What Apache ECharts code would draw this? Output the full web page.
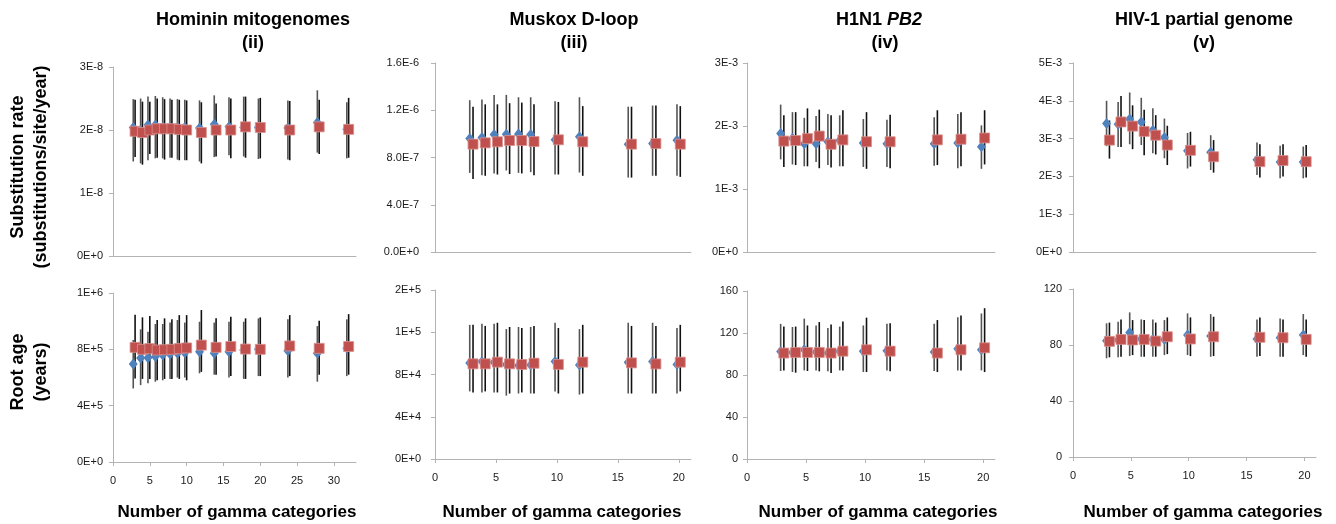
<!DOCTYPE html>
<html>
<head>
<meta charset="utf-8">
<script src="https://cdn.jsdelivr.net/npm/echarts@6/dist/echarts.min.js"></script>
<style>
  html, body { margin: 0; padding: 0; background: #fff; }
  #chart { width: 1336px; height: 524px; }
</style>
</head>
<body>
<div id="chart"></div>
<script>
// number of gamma categories
var gammaHom = [3, 4, 5, 6, 7, 8, 9, 10, 12, 14, 16, 18, 20, 24, 28, 32];
var gammaOther = [3, 4, 5, 6, 7, 8, 10, 12, 16, 18, 20];

// Hominin mitogenomes - substitution rate (x 1e-8)
var homRateBlue   = [2.04, 1.99, 2.08, 2.08, 2.04, 2.04, 2.04, 2.04, 2.03, 2.09, 2.05, 2.04, 2.04, 2.03, 2.12, 2.01];
var homRateBlueLo = [1.50, 1.47, 1.52, 1.55, 1.55, 1.56, 1.53, 1.52, 1.50, 1.57, 1.60, 1.58, 1.54, 1.53, 1.64, 1.55];
var homRateBlueHi = [2.49, 2.50, 2.53, 2.54, 2.52, 2.50, 2.49, 2.48, 2.47, 2.55, 2.52, 2.53, 2.50, 2.47, 2.63, 2.44];
var homRateRed    = [1.98, 1.96, 2.00, 2.02, 2.02, 2.02, 2.01, 2.00, 1.96, 2.00, 2.00, 2.05, 2.04, 2.00, 2.05, 2.01];
var homRateRedLo  = [1.57, 1.45, 1.62, 1.56, 1.53, 1.56, 1.52, 1.52, 1.47, 1.58, 1.55, 1.56, 1.55, 1.52, 1.62, 1.56];
var homRateRedHi  = [2.48, 2.45, 2.45, 2.50, 2.49, 2.48, 2.48, 2.47, 2.44, 2.42, 2.50, 2.53, 2.51, 2.46, 2.48, 2.51];

// Hominin mitogenomes - root age (x 1e5 years)
var homAgeBlue   = [6.96, 7.38, 7.40, 7.50, 7.60, 7.67, 7.72, 7.76, 7.83, 7.72, 7.83, 7.95, 8.00, 7.90, 7.72, 8.07];
var homAgeBlueLo = [5.22, 5.46, 5.60, 5.70, 5.80, 5.90, 6.00, 6.00, 6.30, 6.20, 6.00, 5.90, 6.10, 6.00, 5.70, 6.10];
var homAgeBlueHi = [8.66, 9.42, 9.25, 9.80, 9.80, 9.90, 10.08, 9.90, 9.96, 9.90, 9.96, 9.96, 10.20, 10.13, 9.65, 10.13];
var homAgeRed    = [8.14, 8.00, 8.05, 7.95, 7.97, 8.00, 8.05, 8.10, 8.30, 8.14, 8.20, 8.02, 8.00, 8.24, 8.07, 8.20];
var homAgeRedLo  = [5.93, 5.90, 5.90, 5.80, 5.90, 5.90, 5.90, 5.80, 6.40, 6.20, 6.10, 5.90, 6.10, 6.10, 6.20, 6.20];
var homAgeRedHi  = [10.45, 10.27, 10.36, 10.08, 10.20, 10.13, 10.43, 10.43, 10.79, 10.20, 10.32, 10.20, 10.27, 10.43, 10.03, 10.50];

// Muskox D-loop - substitution rate (x 1e-7)
var muskRateBlue   = [9.60, 9.70, 9.95, 9.97, 10.00, 9.95, 9.50, 9.75, 9.13, 9.18, 9.47];
var muskRateBlueLo = [6.70, 6.50, 6.65, 6.90, 6.70, 6.76, 6.56, 6.73, 6.30, 6.45, 6.45];
var muskRateBlueHi = [12.85, 12.90, 13.30, 13.30, 13.10, 13.10, 12.77, 13.10, 12.30, 12.40, 12.50];
var muskRateRed    = [9.13, 9.24, 9.33, 9.44, 9.44, 9.35, 9.50, 9.33, 9.13, 9.18, 9.13];
var muskRateRedLo  = [6.17, 6.45, 6.56, 6.60, 6.65, 6.50, 6.56, 6.45, 6.30, 6.45, 6.36];
var muskRateRedHi  = [12.30, 12.50, 12.50, 12.60, 12.65, 12.50, 12.70, 12.35, 12.30, 12.40, 12.35];

// Muskox D-loop - root age (x 1e4 years)
var muskAgeBlue   = [9.10, 9.23, 9.17, 8.95, 8.85, 8.90, 9.23, 8.90, 9.17, 9.23, 8.95];
var muskAgeBlueLo = [6.4, 6.3, 6.3, 6.0, 6.2, 6.2, 6.4, 6.1, 6.2, 6.2, 6.2];
var muskAgeBlueHi = [12.7, 12.8, 12.8, 12.3, 12.5, 12.5, 12.9, 12.3, 12.9, 12.9, 12.4];
var muskAgeRed    = [9.01, 9.01, 9.17, 9.01, 8.95, 9.07, 8.95, 9.17, 9.10, 9.00, 9.17];
var muskAgeRedLo  = [6.3, 6.4, 6.3, 6.2, 6.3, 6.2, 6.2, 6.2, 6.2, 6.2, 6.4];
var muskAgeRedHi  = [12.7, 12.6, 12.9, 12.5, 12.4, 12.6, 12.4, 12.7, 12.6, 12.6, 12.7];

// H1N1 PB2 - substitution rate (x 1e-3)
var fluRateBlue   = [1.88, 1.80, 1.72, 1.72, 1.75, 1.77, 1.73, 1.72, 1.72, 1.73, 1.67];
var fluRateBlueLo = [1.47, 1.39, 1.36, 1.43, 1.38, 1.36, 1.35, 1.35, 1.37, 1.33, 1.32];
var fluRateBlueHi = [2.34, 2.22, 2.13, 2.16, 2.19, 2.17, 2.11, 2.10, 2.14, 2.19, 2.01];
var fluRateRed    = [1.76, 1.77, 1.80, 1.84, 1.71, 1.78, 1.75, 1.75, 1.78, 1.79, 1.81];
var fluRateRedLo  = [1.35, 1.38, 1.36, 1.33, 1.34, 1.36, 1.32, 1.33, 1.38, 1.36, 1.39];
var fluRateRedHi  = [2.17, 2.22, 2.28, 2.26, 2.17, 2.25, 2.22, 2.18, 2.25, 2.22, 2.25];

// H1N1 PB2 - root age (years)
var fluAgeBlue   = [102.4, 101.5, 104.0, 102.0, 100.9, 102.7, 102.7, 103.0, 101.8, 105.0, 104.0];
var fluAgeBlueLo = [83.8, 82.8, 84.4, 84.4, 83.5, 84.4, 82.8, 84.4, 83.8, 84.4, 84.4];
var fluAgeBlueHi = [128.7, 125.7, 133.7, 127.2, 124.7, 126.1, 127.2, 128.7, 128.7, 135.0, 138.6];
var fluAgeRed    = [100.9, 101.5, 101.5, 101.5, 100.9, 102.7, 104.0, 102.7, 100.9, 104.0, 105.9];
var fluAgeRedLo  = [84.4, 82.2, 83.8, 83.5, 81.9, 84.4, 82.8, 83.5, 82.8, 84.4, 82.8];
var fluAgeRedHi  = [126.1, 126.1, 127.2, 130.4, 128.2, 131.0, 134.6, 129.4, 132.3, 136.7, 143.6];

// HIV-1 partial genome - substitution rate (x 1e-3)
var hivRateBlue   = [3.40, 3.38, 3.52, 3.44, 3.22, 3.03, 2.68, 2.64, 2.44, 2.38, 2.38];
var hivRateBlueLo = [2.80, 2.78, 2.85, 2.83, 2.61, 2.48, 2.21, 2.17, 2.04, 1.95, 1.95];
var hivRateBlueHi = [4.00, 3.97, 4.22, 4.08, 3.80, 3.53, 3.15, 3.09, 2.90, 2.81, 2.79];
var hivRateRed    = [2.96, 3.44, 3.33, 3.19, 3.09, 2.83, 2.69, 2.52, 2.39, 2.42, 2.39];
var hivRateRedLo  = [2.47, 2.78, 2.72, 2.56, 2.58, 2.30, 2.26, 2.10, 1.97, 2.00, 1.97];
var hivRateRedHi  = [3.48, 4.13, 3.88, 3.76, 3.62, 3.34, 3.18, 2.96, 2.85, 2.85, 2.83];

// HIV-1 partial genome - root age (years)
var hivAgeBlue   = [83.1, 83.6, 89.0, 84.3, 84.0, 84.0, 87.1, 86.4, 84.3, 85.2, 87.1];
var hivAgeBlueLo = [70.5, 71.2, 72.1, 71.6, 71.6, 72.8, 72.8, 71.6, 71.6, 71.6, 72.8];
var hivAgeBlueHi = [95.5, 96.6, 103.3, 98.3, 98.3, 97.8, 102.6, 102.1, 98.3, 99.0, 102.1];
var hivAgeRed    = [82.6, 84.0, 83.6, 84.0, 82.8, 85.9, 84.3, 85.9, 85.5, 85.2, 84.0];
var hivAgeRedLo  = [71.2, 71.6, 72.8, 71.6, 71.6, 73.5, 72.1, 72.1, 72.1, 71.6, 71.6];
var hivAgeRedHi  = [96.0, 98.3, 97.8, 97.8, 96.0, 99.7, 99.7, 100.2, 99.7, 98.3, 98.3];

// panel titles and axis names
var titleLine1 = ['Hominin mitogenomes', 'Muskox D-loop', 'H1N1 {it|PB2}', 'HIV-1 partial genome'];
var titleLine2 = ['(ii)', '(iii)', '(iv)', '(v)'];
var rowNames = ['Substitution rate\n(substitutions/site/year)', 'Root age\n(years)'];
var xName = 'Number of gamma categories';
var xTicks = [0, 5, 10, 15, 20, 25, 30];

// y axis ranges: [max, interval, digits of exponent format (null = plain)]
var rateAxes = [[3e-8, 1e-8, 0], [1.6e-6, 4e-7, 1], [3e-3, 1e-3, 0], [5e-3, 1e-3, 0]];
var ageAxes = [[1.2e6, 4e5, 0], [1.6e5, 4e4, 0], [160, 40, null], [120, 40, null]];
var xMax = [33, 21, 21, 21];

var panels = [
  [
    { x: gammaHom, unit: 1e-8, b: homRateBlue, bl: homRateBlueLo, bh: homRateBlueHi, r: homRateRed, rl: homRateRedLo, rh: homRateRedHi },
    { x: gammaHom, unit: 1e5, b: homAgeBlue, bl: homAgeBlueLo, bh: homAgeBlueHi, r: homAgeRed, rl: homAgeRedLo, rh: homAgeRedHi }
  ],
  [
    { x: gammaOther, unit: 1e-7, b: muskRateBlue, bl: muskRateBlueLo, bh: muskRateBlueHi, r: muskRateRed, rl: muskRateRedLo, rh: muskRateRedHi },
    { x: gammaOther, unit: 1e4, b: muskAgeBlue, bl: muskAgeBlueLo, bh: muskAgeBlueHi, r: muskAgeRed, rl: muskAgeRedLo, rh: muskAgeRedHi }
  ],
  [
    { x: gammaOther, unit: 1e-3, b: fluRateBlue, bl: fluRateBlueLo, bh: fluRateBlueHi, r: fluRateRed, rl: fluRateRedLo, rh: fluRateRedHi },
    { x: gammaOther, unit: 1, b: fluAgeBlue, bl: fluAgeBlueLo, bh: fluAgeBlueHi, r: fluAgeRed, rl: fluAgeRedLo, rh: fluAgeRedHi }
  ],
  [
    { x: gammaOther, unit: 1e-3, b: hivRateBlue, bl: hivRateBlueLo, bh: hivRateBlueHi, r: hivRateRed, rl: hivRateRedLo, rh: hivRateRedHi },
    { x: gammaOther, unit: 1, b: hivAgeBlue, bl: hivAgeBlueLo, bh: hivAgeBlueHi, r: hivAgeRed, rl: hivAgeRedLo, rh: hivAgeRedHi }
  ]
];

// layout (pixels)
var FONT = "'Liberation Sans', Arial, sans-serif";
var colLeft = [113, 435, 747, 1073];
var colWidth = [243, 256, 248, 243];
var rowTop = [[67, 293], [63, 290], [63, 291], [63, 289]];
var rowHeight = [[189, 169], [189, 169], [189, 168], [189, 168]];
var labelMargin = [[10, 10], [16, 14], [9, 9], [11, 11]];
var titleX = [[248, 248], [569, 569], [874, 880], [1199, 1199]];
var xNameX = [237, 562, 878, 1203];
var blueShift = [-0.25, -0.15, -0.15, -0.1];
var redShift = [0, 0.12, 0.12, 0.15];

var BLUE = '#4f81bd', RED = '#c0504d', AXIS = '#b3b3b3', LABEL = '#1a1a1a';

function fmt(digits) {
  return function (v) {
    if (digits === null) return String(Math.round(v));
    return v.toExponential(digits).toUpperCase();
  };
}

function errBar(color) {
  return function (params, api) {
    var p1 = api.coord([api.value(0), api.value(1)]);
    var p2 = api.coord([api.value(0), api.value(2)]);
    return {
      type: 'line',
      shape: { x1: p1[0], y1: p1[1], x2: p2[0], y2: p2[1] },
      style: { stroke: color, lineWidth: 1.6 }
    };
  };
}

var grids = [], xAxes = [], yAxes = [], series = [], titles = [], graphics = [];

for (var c = 0; c < 4; c++) {
  for (var row = 0; row < 2; row++) {
    var idx = grids.length;
    var p = panels[c][row];
    var ax = row === 0 ? rateAxes[c] : ageAxes[c];
    var ticks = xTicks.filter(function (t) { return t <= xMax[c]; });
    grids.push({ left: colLeft[c], top: rowTop[c][row], width: colWidth[c], height: rowHeight[c][row] });
    xAxes.push({
      type: 'value', gridIndex: idx, min: 0, max: xMax[c],
      axisLine: { show: true, onZero: false, lineStyle: { color: AXIS, width: 1 } },
      axisTick: { show: row === 1, length: 4, lineStyle: { color: AXIS }, customValues: ticks },
      axisLabel: { show: row === 1, margin: 13, fontSize: 11, color: LABEL, fontFamily: FONT, customValues: ticks },
      splitLine: { show: false }
    });
    yAxes.push({
      type: 'value', gridIndex: idx, min: 0, max: ax[0], interval: ax[1],
      axisLine: { show: true, lineStyle: { color: AXIS, width: 1 } },
      axisTick: { show: true, length: 4, lineStyle: { color: AXIS } },
      axisLabel: { margin: labelMargin[c][row], fontSize: 11, color: LABEL, fontFamily: FONT, formatter: fmt(ax[2]) },
      splitLine: { show: false }
    });

    var blueErr = [], redErr = [], bluePts = [], redPts = [];
    for (var i = 0; i < p.x.length; i++) {
      var bx = p.x[i] + blueShift[c], rx = p.x[i] + redShift[c];
      blueErr.push([bx, p.bl[i] * p.unit, p.bh[i] * p.unit]);
      redErr.push([rx, p.rl[i] * p.unit, p.rh[i] * p.unit]);
      bluePts.push([bx, p.b[i] * p.unit]);
      redPts.push([rx, p.r[i] * p.unit]);
    }
    series.push({ type: 'custom', xAxisIndex: idx, yAxisIndex: idx, renderItem: errBar('#555555'), data: blueErr, encode: { x: 0, y: [1, 2] }, z: 1, silent: true });
    series.push({ type: 'custom', xAxisIndex: idx, yAxisIndex: idx, renderItem: errBar('#111111'), data: redErr, encode: { x: 0, y: [1, 2] }, z: 2, silent: true });
    series.push({ type: 'scatter', xAxisIndex: idx, yAxisIndex: idx, symbol: 'diamond', symbolSize: [9, 11], itemStyle: { color: BLUE, opacity: 1 }, data: bluePts, z: 3 });
    series.push({ type: 'scatter', xAxisIndex: idx, yAxisIndex: idx, symbol: 'rect', symbolSize: 10, itemStyle: { color: RED, opacity: 1, borderColor: '#d9908e', borderWidth: 0.8 }, data: redPts, z: 4 });
  }

  var tStyle = {
    fontSize: 18, fontWeight: 'bold', color: '#000', fontFamily: FONT,
    rich: { it: { fontSize: 18, fontWeight: 'bold', fontStyle: 'italic', color: '#000', fontFamily: FONT } }
  };
  titles.push({ text: titleLine1[c], left: titleX[c][0], top: 6, textAlign: 'center', textStyle: tStyle });
  titles.push({ text: titleLine2[c], left: titleX[c][1], top: 29, textAlign: 'center', textStyle: tStyle });

  graphics.push({
    type: 'text', x: xNameX[c], y: 512,
    style: { text: xName, align: 'center', verticalAlign: 'middle', font: 'bold 17px ' + FONT, fill: '#000' }
  });
}

graphics.push({
  type: 'text', x: 30, y: 167, rotation: Math.PI / 2,
  style: { text: rowNames[0], align: 'center', verticalAlign: 'middle', font: 'bold 18px ' + FONT, lineHeight: 23, fill: '#000' }
});
graphics.push({
  type: 'text', x: 30, y: 372, rotation: Math.PI / 2,
  style: { text: rowNames[1], align: 'center', verticalAlign: 'middle', font: 'bold 18px ' + FONT, lineHeight: 23, fill: '#000' }
});

var chart = echarts.init(document.getElementById('chart'), null, { renderer: 'canvas' });
chart.setOption({
  backgroundColor: '#fff',
  animation: false,
  title: titles,
  grid: grids,
  xAxis: xAxes,
  yAxis: yAxes,
  series: series,
  graphic: graphics
});
</script>
</body>
</html>
